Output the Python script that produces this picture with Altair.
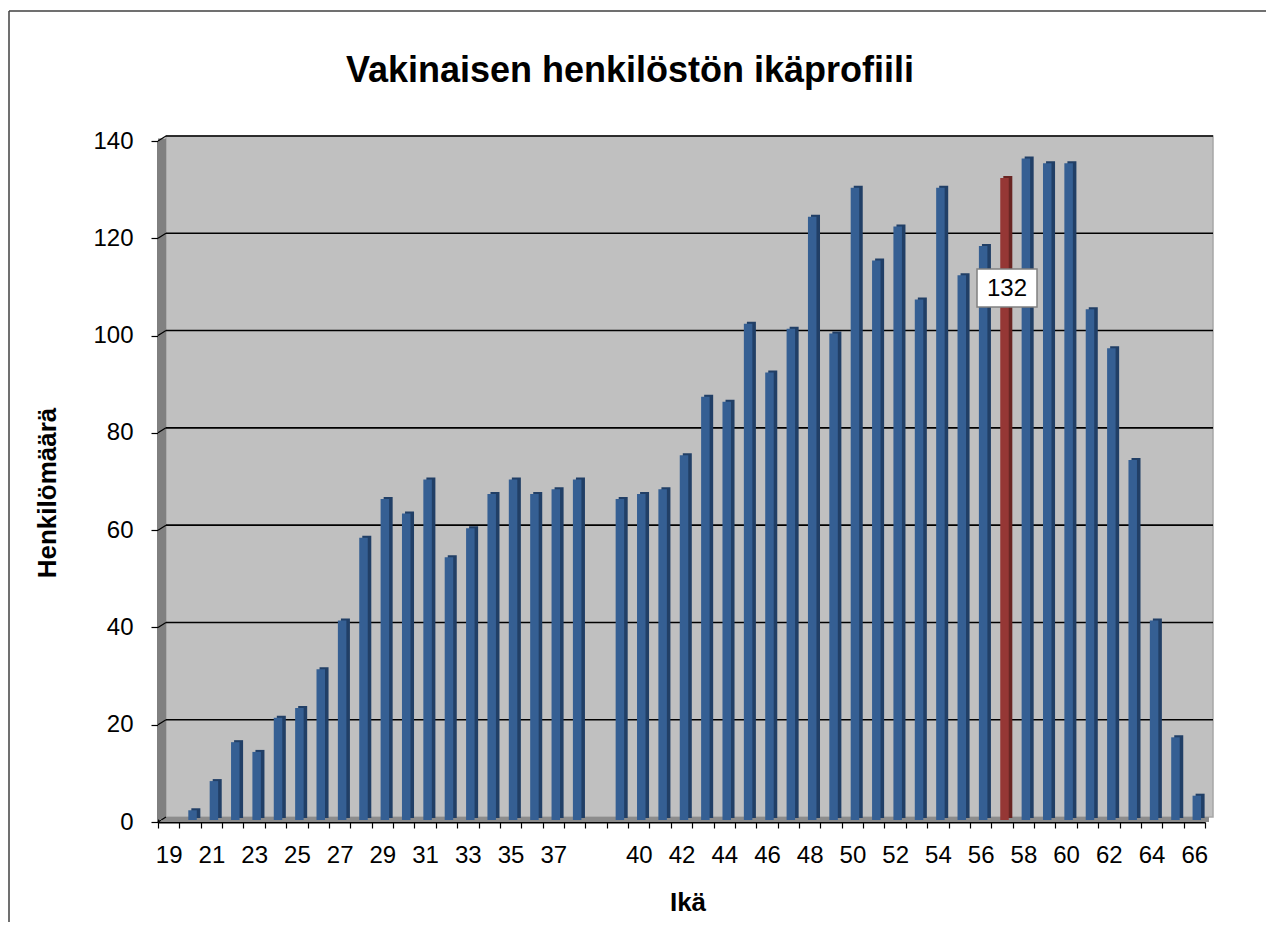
import altair as alt
import pandas as pd

# ---------------- data ----------------
ages = ["19", "20", "21", "22", "23", "24", "25", "26", "27", "28",
        "29", "30", "31", "32", "33", "34", "35", "36", "37", "38",
        " ",
        "39", "40", "41", "42", "43", "44", "45", "46", "47", "48",
        "49", "50", "51", "52", "53", "54", "55", "56", "57", "58",
        "59", "60", "61", "62", "63", "64", "65", "66"]
counts = [0, 2, 8, 16, 14, 21, 23, 31, 41, 58,
          66, 63, 70, 54, 60, 67, 70, 67, 68, 70,
          None,
          66, 67, 68, 75, 87, 86, 102, 92, 101, 124,
          100, 130, 115, 122, 107, 130, 112, 118, 132, 136,
          135, 135, 105, 97, 74, 41, 17, 5]
highlight_age = "57"
y_ticks = [0, 20, 40, 60, 80, 100, 120, 140]
x_tick_labels = ["19", "21", "23", "25", "27", "29", "31", "33", "35", "37",
                 "40", "42", "44", "46", "48", "50", "52", "54", "56", "58",
                 "60", "62", "64", "66"]

chart_title = "Vakinaisen henkilöstön ikäprofiili"
x_title = "Ikä"
y_title = "Henkilömäärä"

# ---------------- layout / style ----------------
W, H = 1047, 681
DX, DY = 8, 5          # 3-D depth offset of the back wall
FONT = "Liberation Sans"
BLUE, BLUE_SIDE = "#355F93", "#213F66"
RED, RED_SIDE = "#953735", "#682522"

df = pd.DataFrame({"age": ages, "count": counts})
grid = pd.DataFrame({"v": y_ticks})
one = pd.DataFrame({"k": [0]})

label_list = "[" + ",".join("'" + s + "'" for s in x_tick_labels) + "]"

x_scale = alt.Scale(domain=ages, paddingInner=0, paddingOuter=0)
y_scale = alt.Scale(domain=[0, 140], nice=False)

x_enc = alt.X(
    "age:N", sort=ages, scale=x_scale,
    axis=alt.Axis(
        title=None, labelAngle=0, labelFont=FONT, labelFontSize=24,
        labelColor="black", labelPadding=15, tickSize=6, tickColor="black",
        tickWidth=1.2, tickBand="extent", domainColor="black", domainWidth=2,
        labelExpr="indexof(" + label_list + ", datum.value) >= 0 ? datum.label : ''",
        labelOverlap=False, grid=False,
    ),
)
y_enc = alt.Y(
    "count:Q", scale=y_scale,
    axis=alt.Axis(
        title=None, values=y_ticks, labelFont=FONT, labelFontSize=24,
        labelColor="black", labelPadding=18, tickSize=7, tickColor="black",
        tickWidth=1.2, domainColor="black", domainWidth=2, grid=False,
    ),
)

# walls / floor
back_wall = alt.Chart(one).mark_rect(fill="#C0C0C0", stroke="#A6A6A6", strokeWidth=1.5).encode(
    x=alt.value(DX), x2=alt.value(W + DX), y=alt.value(-DY), y2=alt.value(H - DY))
left_wall = alt.Chart(one).mark_rect(fill="#808080").encode(
    x=alt.value(0), x2=alt.value(DX), y=alt.value(-DY / 2), y2=alt.value(H - DY / 2))
floor = alt.Chart(one).mark_rect(fill="#8C8C8C").encode(
    x=alt.value(DX / 2), x2=alt.value(W + DX / 2), y=alt.value(H - DY), y2=alt.value(H))

gridlines = alt.Chart(grid).transform_filter("datum.v > 0").mark_rule(
    color="black", strokeWidth=1.6, yOffset=-DY).encode(
    y=alt.Y("v:Q", scale=y_scale), x=alt.value(DX), x2=alt.value(W + DX))
connectors = alt.Chart(grid).mark_rule(color="black", strokeWidth=1.2, y2Offset=-DY).encode(
    y=alt.Y("v:Q", scale=y_scale), y2=alt.Y2("v"), x=alt.value(0), x2=alt.value(DX))

cond_side = alt.condition(f"datum.age == '{highlight_age}'", alt.value(RED_SIDE), alt.value(BLUE_SIDE))
cond_front = alt.condition(f"datum.age == '{highlight_age}'", alt.value(RED), alt.value(BLUE))

bars_base = alt.Chart(df).transform_filter("datum.count > 0")
bars_side = bars_base.mark_bar(width=9, xOffset=5.8, yOffset=-4, y2Offset=-2).encode(
    x=x_enc, y=y_enc, color=cond_side)
bars_front = bars_base.mark_bar(width=8.5, xOffset=2.5, yOffset=-2, y2Offset=-2).encode(
    x=x_enc, y=y_enc, color=cond_front)

hl = alt.Chart(df).transform_filter(f"datum.age == '{highlight_age}'")
label_box = hl.mark_point(
    shape="M-1,-0.633L1,-0.633L1,0.633L-1,0.633Z", size=3600, filled=True,
    fill="white", stroke="#808080", strokeWidth=1.5, opacity=1, fillOpacity=1,
    xOffset=5, yOffset=108).encode(
    x=alt.X("age:N", sort=ages, scale=x_scale), y=alt.Y("count:Q", scale=y_scale))
label_text = hl.mark_text(font=FONT, fontSize=24, color="black", baseline="middle",
                          align="center", xOffset=5, yOffset=109).encode(
    x=alt.X("age:N", sort=ages, scale=x_scale), y=alt.Y("count:Q", scale=y_scale),
    text=alt.Text("count:Q"))

title_mark = alt.Chart(one).mark_text(
    text=chart_title, font=FONT, fontSize=36, fontWeight="bold", color="black",
    align="center", baseline="alphabetic").encode(x=alt.value(472), y=alt.value(-59))
xtitle_mark = alt.Chart(one).mark_text(
    text=x_title, font=FONT, fontSize=26, fontWeight="bold", color="black",
    align="center", baseline="alphabetic").encode(x=alt.value(530), y=alt.value(770))
ytitle_mark = alt.Chart(one).mark_text(
    text=y_title, font=FONT, fontSize=26, fontWeight="bold", color="black",
    align="center", baseline="alphabetic", angle=270).encode(x=alt.value(-102), y=alt.value(352))

border_top = alt.Chart(one).mark_rule(color="#404040", strokeWidth=1.5).encode(
    x=alt.value(-149), x2=alt.value(1120), y=alt.value(-130))
border_left = alt.Chart(one).mark_rule(color="#404040", strokeWidth=1.5).encode(
    x=alt.value(-149), y=alt.value(-130), y2=alt.value(800))

chart = alt.layer(
    back_wall, left_wall, floor, gridlines, connectors,
    bars_side, bars_front, label_box, label_text,
    title_mark, xtitle_mark, ytitle_mark, border_top, border_left,
).properties(
    width=W, height=H,
    autosize=alt.AutoSizeParams(type="none"),
    padding={"left": 150, "top": 133, "right": 61, "bottom": 100},
).configure_view(stroke=None).configure(background="white")

chart.save("out.html", embed_options={"renderer": "svg", "actions": False})
